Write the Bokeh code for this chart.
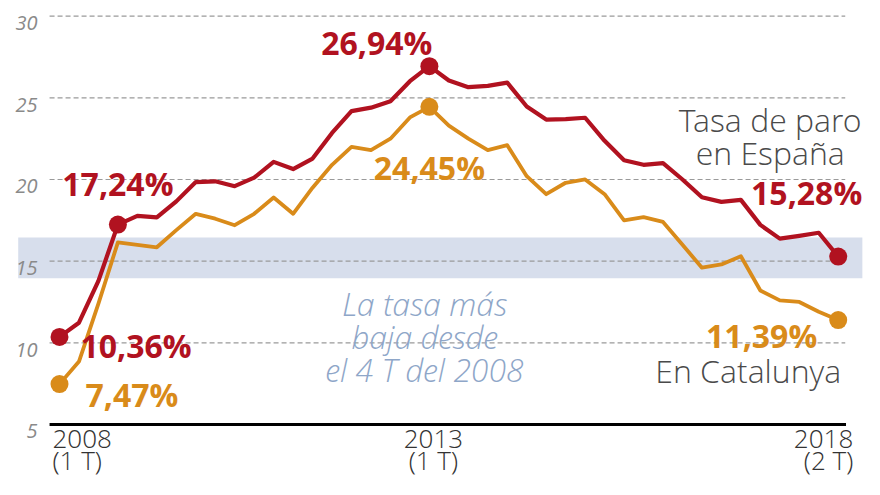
from bokeh.plotting import figure
from bokeh.models import Range1d
from bokeh.core.properties import value
from bokeh.embed import file_html
from bokeh.resources import INLINE

# ---------------- data ----------------
quarters = ["2008-2T", "2008-3T", "2008-4T",
            "2009-1T", "2009-2T", "2009-3T", "2009-4T",
            "2010-1T", "2010-2T", "2010-3T", "2010-4T",
            "2011-1T", "2011-2T", "2011-3T", "2011-4T",
            "2012-1T", "2012-2T", "2012-3T", "2012-4T",
            "2013-1T", "2013-2T", "2013-3T", "2013-4T",
            "2014-1T", "2014-2T", "2014-3T", "2014-4T",
            "2015-1T", "2015-2T", "2015-3T", "2015-4T",
            "2016-1T", "2016-2T", "2016-3T", "2016-4T",
            "2017-1T", "2017-2T", "2017-3T", "2017-4T",
            "2018-1T", "2018-2T"]

spain = [10.36, 11.23, 13.79,
         17.24, 17.77, 17.68, 18.66,
         19.84, 19.89, 19.59, 20.11,
         21.08, 20.64, 21.28, 22.85,
         24.19, 24.40, 24.79, 26.02,
         26.94, 26.06, 25.65, 25.73,
         25.93, 24.47, 23.67, 23.70,
         23.78, 22.37, 21.18, 20.90,
         21.00, 20.00, 18.91, 18.63,
         18.75, 17.22, 16.38, 16.55,
         16.74, 15.28]

catalonia = [7.47, 8.85, 12.40,
             16.15, 16.00, 15.85, 16.90,
             17.90, 17.60, 17.20, 17.90,
             18.90, 17.90, 19.50, 20.90,
             22.00, 21.80, 22.50, 23.80,
             24.45, 23.30, 22.50, 21.80,
             22.10, 20.20, 19.10, 19.80,
             20.00, 19.10, 17.50, 17.70,
             17.40, 16.00, 14.60, 14.80,
             15.30, 13.20, 12.60, 12.50,
             11.90, 11.39]

y_ticks = [5, 10, 15, 20, 25, 30]
x_tick_idx = [0, 19, 40]
x_tick_year = ["2008", "2013", "2018"]
x_tick_quarter = ["(1 T)", "(1 T)", "(2 T)"]

band_low, band_high = 13.95, 16.45
note_lines = ["La tasa más", "baja desde", "el 4 T del 2008"]

# ---------------- style ----------------
RED = "#b11220"
ORANGE = "#d98b1a"
BAND = "#d7deec"
GRID = "#9a9a9a"
NOTE = "#8ea6c8"
DARK = "#4a4a4a"
FONT = value("Open Sans")
LIGHT = value("Open Sans Light, Open Sans")

x = list(range(len(quarters)))

p = figure(width=864, height=479, output_backend="svg", toolbar_location=None,
           x_axis_location=None, y_axis_location=None, min_border=0,
           x_range=Range1d(-3.03, 41.35), y_range=Range1d(1.63, 30.96))
p.grid.visible = False
p.outline_line_color = None
p.background_fill_color = "white"
p.border_fill_color = "white"

first, last = x[0], x[-1]

# band
p.quad(left=first - 2.12, right=last + 1.24, bottom=band_low, top=band_high,
       fill_color=BAND, line_color=None)

# gridlines (dashed) and baseline
grid_vals = [v for v in y_ticks if v != y_ticks[0]]
p.segment(x0=[first - 0.51] * len(grid_vals), x1=[last + 0.36] * len(grid_vals),
          y0=grid_vals, y1=grid_vals, line_color=GRID, line_width=1.2, line_dash="5 3")
p.segment(x0=[first - 0.51], x1=[last + 0.4], y0=[y_ticks[0]], y1=[y_ticks[0]],
          line_color="black", line_width=3)

# y tick labels
p.text(x=[first - 1.13] * len(y_ticks), y=y_ticks, text=[str(v) for v in y_ticks],
       text_align="right", text_baseline="alphabetic", y_offset=7,
       text_font=FONT, text_font_style="italic", text_font_size="20px", text_color="#8a8a8a")

# x tick labels
aligns = ["left", "center", "right"]
xoffs = [-7, 4, 15]
for i, a, xo in zip(range(3), aligns, xoffs):
    p.text(x=[x_tick_idx[i]], y=[y_ticks[0]], text=[x_tick_year[i]],
           text_align=a, text_baseline="alphabetic", x_offset=xo, y_offset=15,
           text_font=LIGHT, text_font_size="26px", text_color="#333333")
    p.text(x=[x_tick_idx[i]], y=[y_ticks[0]], text=[x_tick_quarter[i]],
           text_align=a, text_baseline="alphabetic", x_offset=xo, y_offset=36,
           text_font=LIGHT, text_font_size="26px", text_color="#333333")

# note text
p.text(x=[18.75] * 3, y=[band_low] * 3, text=note_lines,
       text_align="center", text_baseline="alphabetic", y_offset=[25, 58, 91],
       text_font=LIGHT, text_font_style="italic", text_font_size="32px", text_color=NOTE)

# lines
p.line(x, catalonia, line_color=ORANGE, line_width=3.8, line_join="round")
p.line(x, spain, line_color=RED, line_width=4.2, line_join="round")

# dots
sp_dots = [0, 3, 19, 40]
ca_dots = [0, 19, 40]
p.scatter([x[i] for i in ca_dots], [catalonia[i] for i in ca_dots], size=18,
          fill_color=ORANGE, line_color=None)
p.scatter([x[i] for i in sp_dots], [spain[i] for i in sp_dots], size=18,
          fill_color=RED, line_color=None)

def fmt(v):
    return f"{v:.2f}".replace(".", ",") + "%"

# value labels (Spain)
sp_lab = [(0, "left", 21, 9), (3, "center", 0, -41), (19, "right", 3, -24), (40, "right", 24, -64)]
for i, a, xo, yo in sp_lab:
    p.text(x=[x[i]], y=[spain[i]], text=[fmt(spain[i])], text_align=a,
           text_baseline="alphabetic", x_offset=xo, y_offset=yo,
           text_font=FONT, text_font_style="bold", text_font_size="32px", text_color=RED)

ca_lab = [(0, "left", 26, 10), (19, "center", 0, 61), (40, "right", -21, 15)]
for i, a, xo, yo in ca_lab:
    p.text(x=[x[i]], y=[catalonia[i]], text=[fmt(catalonia[i])], text_align=a,
           text_baseline="alphabetic", x_offset=xo, y_offset=yo,
           text_font=FONT, text_font_style="bold", text_font_size="32px", text_color=ORANGE)

# series names
p.text(x=[last, last], y=[spain[-1], spain[-1]], text=["Tasa de paro", "en España"],
       text_align="center", text_baseline="alphabetic", x_offset=-68, y_offset=[-137, -104],
       text_font=LIGHT, text_font_size="32px", text_color=DARK)
p.text(x=[last], y=[catalonia[-1]], text=["En Catalunya"],
       text_align="right", text_baseline="alphabetic", x_offset=3, y_offset=50,
       text_font=LIGHT, text_font_size="32px", text_color=DARK)

open("out.html", "w").write(file_html(p, INLINE))
